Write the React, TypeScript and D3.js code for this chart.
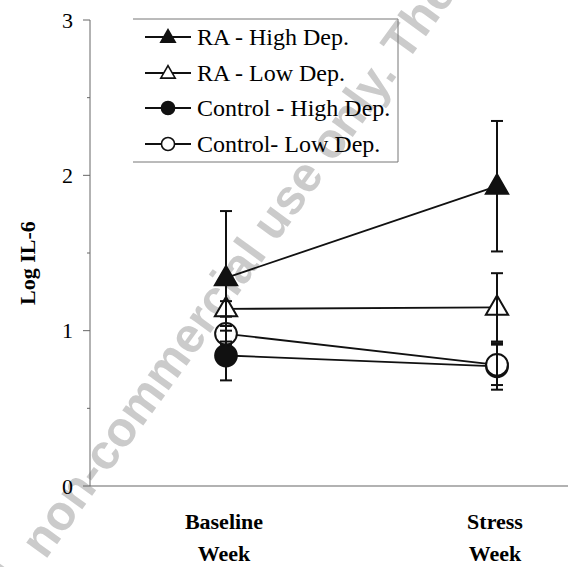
import React from 'react';
import * as d3 from 'd3';

const weeks = ['Baseline Week', 'Stress Week'];
const weekLines = [['Baseline', 'Week'], ['Stress', 'Week']];
const seriesNames = ['RA - High Dep.', 'RA - Low Dep.', 'Control - High Dep.', 'Control- Low Dep.'];
const seriesShapes = ['triangle', 'triangle', 'circle', 'circle'];
const seriesFilled = [true, false, true, false];
const raHigh = [1.34, 1.93];
const raHighErr = [0.43, 0.42];
const raLow = [1.14, 1.15];
const raLowErr = [0.05, 0.22];
const ctlHigh = [0.84, 0.77];
const ctlHighErr = [0.16, 0.15];
const ctlLow = [0.98, 0.78];
const ctlLowErr = [0.05, 0.13];
const yTicks = [0, 1, 2, 3];
const yMinor = [0.5, 1.5, 2.5];

const W = 568, H = 567;

const App = () => {
  const x = d3.scalePoint().domain(weeks).range([226, 497]);
  const y = d3.scaleLinear().domain([0, 3]).range([486, 20]);

  const values = [raHigh, raLow, ctlHigh, ctlLow];
  const errs = [raHighErr, raLowErr, ctlHighErr, ctlLowErr];

  const line = d3.line<number>()
    .x((_, i) => x(weeks[i]) as number)
    .y(d => y(d));

  const sym = (shape: string, big: boolean) => {
    const type = shape === 'triangle' ? d3.symbolTriangle : d3.symbolCircle;
    const size = shape === 'triangle' ? (big ? 215 : 90) : (big ? 370 : 135);
    return d3.symbol().type(type).size(size)() as string;
  };

  const serif = { fontFamily: 'Liberation Serif' };
  const legendRows = [37, 73, 108, 144];

  return (
    <svg width={W} height={H} style={{ position: 'absolute', left: 0, top: 0, background: '#fff' }}>
      {/* watermark */}
      <g transform="translate(44,562) rotate(-54)" fill="#cbcbcb"
        style={{ fontFamily: 'Liberation Sans', fontWeight: 'bold', fontSize: 49 }}>
        <text x={-10} textAnchor="end">personal,</text>
        <text x={2}>non-commercial use only. The Publisher</text>
      </g>

      {/* axes */}
      <line x1={90} x2={90} y1={y(3)} y2={y(0)} stroke="#666" strokeWidth={1} />
      <line x1={90} x2={W} y1={y(0)} y2={y(0)} stroke="#666" strokeWidth={1.2} />
      {yTicks.map(t => (
        <g key={t}>
          <line x1={83} x2={90} y1={y(t)} y2={y(t)} stroke="#666" />
          <text x={73} y={y(t)} dy="0.35em" textAnchor="end" fontSize={22} style={serif}>{t}</text>
        </g>
      ))}
      {yMinor.map(t => (
        <line key={t} x1={87} x2={90} y1={y(t)} y2={y(t)} stroke="#666" />
      ))}
      <text transform={`translate(35,${263}) rotate(-90)`} textAnchor="middle" fontSize={22}
        fontWeight="bold" style={serif}>Log IL-6</text>
      {weeks.map((w, i) => (
        <text key={w} textAnchor="middle" fontSize={22} fontWeight="bold" style={serif}>
          <tspan x={(x(w) as number) - 2} y={529}>{weekLines[i][0]}</tspan>
          <tspan x={(x(w) as number) - 2} y={561}>{weekLines[i][1]}</tspan>
        </text>
      ))}

      {/* series lines */}
      {values.map((v, s) => (
        <path key={s} d={line(v) as string} fill="none" stroke="#111" strokeWidth={1.8} />
      ))}
      {/* markers */}
      {values.map((v, s) => v.map((d, i) => (
        <path key={`${s}-${i}`} d={sym(seriesShapes[s], true)}
          transform={`translate(${x(weeks[i])},${y(d) + (seriesShapes[s] === 'triangle' ? 1 : 0)})`}
          fill={seriesFilled[s] ? '#111' : '#fff'} stroke="#111" strokeWidth={2} />
      )))}
      {/* error bars */}
      {values.map((v, s) => v.map((d, i) => {
        const cx = x(weeks[i]) as number;
        const lo = y(d - errs[s][i]), hi = y(d + errs[s][i]);
        return (
          <g key={`e${s}-${i}`} stroke="#111" strokeWidth={2}>
            <line x1={cx} x2={cx} y1={lo} y2={hi} />
            <line x1={cx - 6} x2={cx + 6} y1={lo} y2={lo} />
            <line x1={cx - 6} x2={cx + 6} y1={hi} y2={hi} />
          </g>
        );
      }))}

      {/* legend */}
      <polyline points="133,19 398,19 398,162 133,162" fill="none" stroke="#777" strokeWidth={1} />
      {seriesNames.map((n, s) => (
        <g key={n} transform={`translate(0,${legendRows[s]})`}>
          <line x1={145} x2={191} y1={0} y2={0} stroke="#111" strokeWidth={1.8} />
          <path d={sym(seriesShapes[s], false)} transform={`translate(168,${seriesShapes[s] === 'triangle' ? 1 : 0})`}
            fill={seriesFilled[s] ? '#111' : '#fff'} stroke="#111" strokeWidth={1.6} />
          <text x={197} y={0} dy="0.33em" fontSize={24} style={serif}>{n}</text>
        </g>
      ))}
    </svg>
  );
};

export default App;
